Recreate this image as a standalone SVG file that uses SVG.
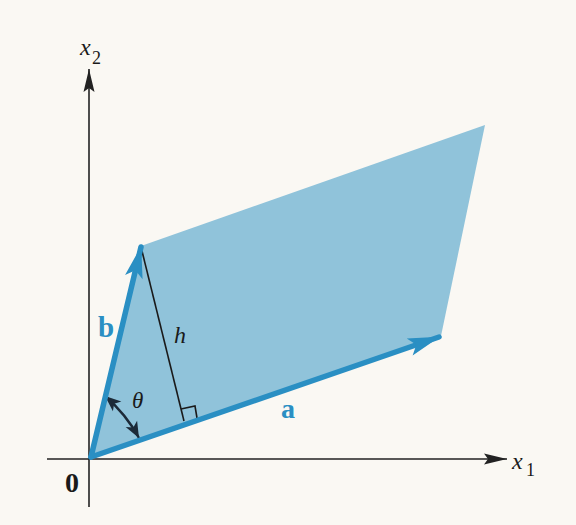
<svg xmlns="http://www.w3.org/2000/svg" width="576" height="525" viewBox="0 0 576 525">
  <style>
    .axis { stroke: #222; stroke-width: 1.6; fill: none; }
    .vec { stroke: #2a8fc3; stroke-width: 5.5; fill: none; stroke-linecap: round; }
    .thin { stroke: #1a1a1a; stroke-width: 1.6; fill: none; }
    text { font-family: 'Liberation Serif', 'Times New Roman', 'DejaVu Serif', serif; }
    .math { font-style: italic; fill: #1a1a1a; }
    .sub { fill: #1a1a1a; }
    .bold { font-weight: bold; }
  </style>
  <defs>
    <marker id="axisHead" markerUnits="userSpaceOnUse" viewBox="-25 -7 26 14" refX="0" refY="0" markerWidth="26" markerHeight="14" orient="auto">
      <path d="M0,0 L-23,-5.5 L-19,0 L-23,5.5 z" fill="#222"/>
    </marker>
    <marker id="vecHead" markerUnits="userSpaceOnUse" viewBox="-33 -10 35 20" refX="0" refY="0" markerWidth="35" markerHeight="20" orient="auto">
      <path d="M1,0 L-31,-9 L-24,0 L-31,9 z" fill="#2a8fc3"/>
    </marker>
    <marker id="thetaHead" markerUnits="userSpaceOnUse" viewBox="-18 -8 19 16" refX="0" refY="0" markerWidth="19" markerHeight="16" orient="auto-start-reverse">
      <path d="M0,0 L-16,-6.5 L-12,0 L-16,6.5 z" fill="#1c2a38"/>
    </marker>
  </defs>
  <rect x="0" y="0" width="576" height="525" fill="#faf8f3"/>

  <g id="parallelogram">
    <polygon points="91,457 441,336 485,125 141,246" fill="#90c3da"/>
  </g>

  <g id="connectors">
    <line id="x1-axis" class="axis" x1="47" y1="459" x2="507" y2="459" marker-end="url(#axisHead)"/>
    <line id="x2-axis" class="axis" x1="89" y1="507" x2="89" y2="69" marker-end="url(#axisHead)"/>
    <line id="height" class="thin" x1="141" y1="247" x2="184" y2="421"/>
    <polyline id="right-angle" class="thin" stroke-width="1.4" points="181,409 195,406 197,418"/>
    <path id="theta-arrow" d="M105,396 Q126,414 139,438" stroke="#1c2a38" stroke-width="2.4" fill="none" marker-start="url(#thetaHead)" marker-end="url(#thetaHead)"/>
    <line id="vector-a" class="vec" x1="91" y1="457" x2="439" y2="337" marker-end="url(#vecHead)"/>
    <line id="vector-b" class="vec" x1="91" y1="457" x2="141" y2="247" marker-end="url(#vecHead)"/>
  </g>

  <g id="label-x2">
    <text class="math" x="80" y="55" font-size="24">x</text>
    <text class="sub" x="92" y="64" font-size="18">2</text>
  </g>
  <g id="label-x1">
    <text class="math" x="512" y="469" font-size="24">x</text>
    <text class="sub" x="526" y="476" font-size="18">1</text>
  </g>
  <g id="label-origin">
    <text class="bold" x="65" y="492" font-size="28" fill="#1a1a1a">0</text>
  </g>
  <g id="label-b">
    <text class="bold" x="98" y="337" font-size="29" fill="#2a8fc3">b</text>
  </g>
  <g id="label-a">
    <text class="bold" x="281" y="418" font-size="28" fill="#2a8fc3">a</text>
  </g>
  <g id="label-h">
    <text class="math" x="174" y="343" font-size="24">h</text>
  </g>
  <g id="label-theta">
    <text class="math" x="132" y="408" font-size="23">θ</text>
  </g>
</svg>
